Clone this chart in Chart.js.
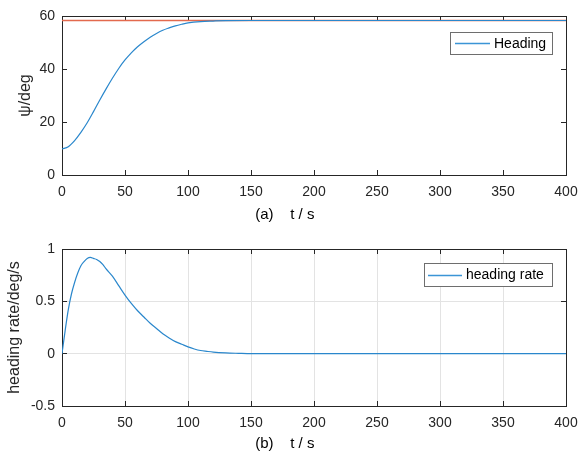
<!DOCTYPE html>
<html>
<head>
<meta charset="utf-8">
<script src="https://cdn.jsdelivr.net/npm/chart.js@4.4.1/dist/chart.umd.min.js"></script>
<style>
  body { margin: 0; background: #fff; }
  #wrap { position: relative; width: 580px; height: 455px; }
  canvas { position: absolute; left: 0; }
</style>
</head>
<body>
<div id="wrap">
  <canvas id="headingChart" width="580" height="228" style="top:0"></canvas>
  <canvas id="rateChart" width="580" height="227" style="top:228px"></canvas>
</div>
<script>
// data
const headingTime = [0, 5, 10, 15, 20, 25, 30, 35, 40, 45, 50, 55, 60, 65, 70, 75, 80, 85, 90, 95, 100, 110, 120, 130, 150, 200, 250, 300, 350, 400];
const headingDeg = [9.8, 10.7, 13.0, 16.1, 19.7, 23.9, 28.3, 32.5, 36.5, 40.2, 43.4, 46.1, 48.4, 50.3, 52.0, 53.4, 54.6, 55.5, 56.3, 56.9, 57.4, 57.9, 58.1, 58.25, 58.3, 58.3, 58.3, 58.3, 58.3, 58.3];
const refTime = [0, 400];
const refDeg = [58.3, 58.3];

const rateTime = [0, 2.5, 5, 7.5, 10, 12.5, 15, 17.5, 20, 22.5, 25, 27.5, 30, 32.5, 35, 40, 45, 50, 55, 60, 65, 70, 75, 80, 85, 90, 95, 100, 105, 110, 115, 120, 130, 140, 150, 200, 250, 300, 350, 400];
const rateDegS = [0, 0.22, 0.42, 0.57, 0.68, 0.77, 0.84, 0.88, 0.91, 0.92, 0.91, 0.90, 0.88, 0.85, 0.81, 0.74, 0.65, 0.56, 0.48, 0.41, 0.35, 0.29, 0.24, 0.19, 0.15, 0.115, 0.09, 0.065, 0.045, 0.03, 0.022, 0.015, 0.007, 0.003, 0, 0, 0, 0, 0, 0];

const timeTicks = [0, 50, 100, 150, 200, 250, 300, 350, 400];
const headingTicks = [0, 20, 40, 60];
const rateTicks = [-0.5, 0, 0.5, 1];

const FONT = '"Liberation Sans", Arial, sans-serif';
const AXIS = '#262626';
const BLUE = '#2a87cc';

const toPoints = (xs, ys) => xs.map((x, i) => ({ x: x, y: ys[i] }));
const setTicks = (vals) => (scale) => { scale.ticks = vals.map((v) => ({ value: v })); };
const noPad = (s) => { s.paddingLeft = 0; s.paddingRight = 0; s.paddingTop = 0; s.paddingBottom = 0; };

// boxed legend in the top right corner of the axes (MATLAB style)
const boxLegend = {
  id: 'boxLegend',
  afterDraw(chart, args, opts) {
    const ds = chart.data.datasets[0];
    const ctx = chart.ctx;
    const area = chart.chartArea;
    ctx.save();
    ctx.font = '14px ' + FONT;
    const tw = ctx.measureText(ds.label).width;
    const w = Math.round(opts.padL + opts.lineLen + 4 + tw + opts.padR);
    const h = opts.height;
    const x = Math.round(area.right - 14 - w);
    const y = Math.round(area.top + opts.top);
    ctx.fillStyle = '#fff';
    ctx.fillRect(x, y, w, h);
    ctx.strokeStyle = '#6e6e6e';
    ctx.lineWidth = 1;
    ctx.strokeRect(x + 0.5, y + 0.5, w, h);
    ctx.beginPath();
    ctx.strokeStyle = '#3b95d6';
    ctx.lineWidth = 1.3;
    ctx.moveTo(x + opts.padL, Math.round(y + h / 2) + 0.5);
    ctx.lineTo(x + opts.padL + opts.lineLen, Math.round(y + h / 2) + 0.5);
    ctx.stroke();
    ctx.fillStyle = '#000';
    ctx.textBaseline = 'middle';
    ctx.fillText(ds.label, x + opts.padL + opts.lineLen + 4, y + h / 2 + 1);
    ctx.restore();
  }
};

function makeScales(o) {
  return {
    x: {
      type: 'linear', min: 0, max: 400,
      afterBuildTicks: setTicks(timeTicks),
      afterFit: (s) => { s.height = o.xHeight; noPad(s); },
      grid: { color: o.gridColor, tickLength: -5, tickColor: AXIS },
      border: { color: AXIS },
      ticks: { color: AXIS, padding: o.xTickPad, maxRotation: 0, autoSkip: false, font: { family: FONT, size: 14 } },
      title: { display: true, text: o.xTitle, color: '#000', font: { family: FONT, size: 15 }, padding: { top: 0, bottom: o.xTitlePad } }
    },
    x2: {
      type: 'linear', position: 'top', min: 0, max: 400,
      afterBuildTicks: setTicks(timeTicks),
      afterFit: (s) => { s.height = 0; noPad(s); },
      grid: { drawOnChartArea: false, tickLength: -5, tickColor: AXIS },
      border: { color: AXIS },
      ticks: { display: false }
    },
    y: {
      min: o.yMin, max: o.yMax,
      afterBuildTicks: setTicks(o.yTicks),
      afterFit: (s) => { s.width = 62; noPad(s); },
      grid: { color: o.gridColor, tickLength: -5, tickColor: AXIS },
      border: { color: AXIS },
      ticks: { color: AXIS, padding: 12, font: { family: FONT, size: 14 }, callback: (v) => String(v) },
      title: { display: true, text: o.yTitle, color: AXIS, font: { family: FONT, size: 16 }, padding: { top: o.yTitlePad, bottom: 0 } }
    },
    y2: {
      position: 'right', min: o.yMin, max: o.yMax,
      afterBuildTicks: setTicks(o.yTicks),
      afterFit: (s) => { s.width = 0; noPad(s); },
      grid: { drawOnChartArea: false, tickLength: -5, tickColor: AXIS },
      border: { color: AXIS },
      ticks: { display: false }
    }
  };
}

new Chart(document.getElementById('headingChart'), {
  type: 'line',
  data: {
    datasets: [
      {
        label: 'Heading',
        data: toPoints(headingTime, headingDeg),
        borderColor: BLUE, borderWidth: 1.2, pointRadius: 0,
        cubicInterpolationMode: 'monotone'
      },
      {
        label: 'reference',
        data: toPoints(refTime, refDeg),
        borderColor: '#e36a4e', borderWidth: 1.6, pointRadius: 0
      }
    ]
  },
  options: {
    responsive: false, animation: false, devicePixelRatio: 1,
    layout: { padding: { top: 16, right: 14, left: 0, bottom: 0 } },
    plugins: {
      legend: { display: false }, tooltip: { enabled: false },
      boxLegend: { top: 16, height: 22, padL: 5, lineLen: 35, padR: 6 }
    },
    scales: makeScales({
      xHeight: 53, xTickPad: 14, xTitlePad: 4,
      xTitle: '(a)    t / s' + ' '.repeat(14),
      gridColor: 'rgba(0,0,0,0)',
      yMin: 0, yMax: 60, yTicks: headingTicks,
      yTitle: '\u03C8/deg', yTitlePad: 16
    })
  },
  plugins: [boxLegend]
});

new Chart(document.getElementById('rateChart'), {
  type: 'line',
  data: {
    datasets: [
      {
        label: 'heading rate',
        data: toPoints(rateTime, rateDegS),
        borderColor: BLUE, borderWidth: 1.2, pointRadius: 0,
        cubicInterpolationMode: 'monotone'
      }
    ]
  },
  options: {
    responsive: false, animation: false, devicePixelRatio: 1,
    layout: { padding: { top: 21, right: 14, left: 0, bottom: 0 } },
    plugins: {
      legend: { display: false }, tooltip: { enabled: false },
      boxLegend: { top: 14, height: 23, padL: 4, lineLen: 34, padR: 8 }
    },
    scales: makeScales({
      xHeight: 49, xTickPad: 14, xTitlePad: 2,
      xTitle: '(b)    t / s' + ' '.repeat(14),
      gridColor: '#e3e3e3',
      yMin: -0.5, yMax: 1, yTicks: rateTicks,
      yTitle: 'heading rate/deg/s', yTitlePad: 5
    })
  },
  plugins: [boxLegend]
});
</script>
</body>
</html>
